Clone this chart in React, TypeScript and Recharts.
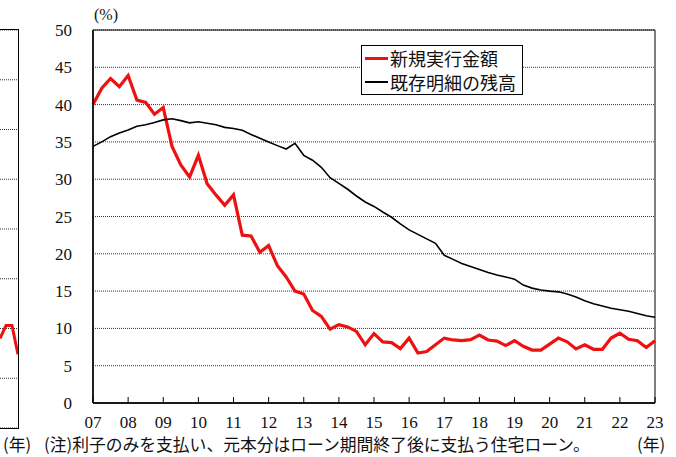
import {
  LineChart,
  Line,
  XAxis,
  YAxis,
  CartesianGrid,
  ReferenceArea,
  Legend,
} from "recharts";

// 四半期ごと (2007Q1〜2023Q1)
const yearLabels = ["07", "08", "09", "10", "11", "12", "13", "14", "15", "16", "17", "18", "19", "20", "21", "22", "23"];

const newLoans = [
  40.0, 42.2, 43.5, 42.4, 43.9, 40.6, 40.3, 38.7, 39.6, 34.4, 31.9, 30.3, 33.2,
  29.4, 27.9, 26.5, 27.9, 22.5, 22.4, 20.2, 21.1, 18.4, 16.9, 15.0, 14.6, 12.4,
  11.6, 9.9, 10.5, 10.2, 9.6, 7.8, 9.3, 8.2, 8.1, 7.3, 8.7, 6.7, 6.9, 7.8, 8.7,
  8.45, 8.35, 8.5, 9.1, 8.45, 8.3, 7.7, 8.35, 7.6, 7.1, 7.1, 7.9, 8.7, 8.2, 7.25,
  7.8, 7.2, 7.2, 8.7, 9.35, 8.55, 8.35, 7.45, 8.35,
];

const outstanding = [
  34.4, 35.0, 35.7, 36.2, 36.6, 37.1, 37.3, 37.6, 37.95, 38.1, 37.85, 37.55, 37.7,
  37.5, 37.3, 36.95, 36.8, 36.55, 36.0, 35.5, 35.0, 34.5, 34.05, 34.8, 33.2, 32.55,
  31.6, 30.2, 29.45, 28.65, 27.75, 26.95, 26.35, 25.6, 24.9, 24.0, 23.2, 22.6, 22.0,
  21.4, 19.8, 19.25, 18.7, 18.3, 17.9, 17.5, 17.15, 16.9, 16.6, 15.8, 15.4, 15.15,
  15.0, 14.9, 14.6, 14.2, 13.7, 13.3, 13.0, 12.7, 12.5, 12.3, 12.0, 11.7, 11.5,
];

// 左隣のパネルの切れ端
const leftTail = [9.0, 10.3, 10.3, 7.4];

const yTicks = [0, 5, 10, 15, 20, 25, 30, 35, 40, 45, 50];
const leftTicks = [0, 5, 10, 15, 20, 25, 30, 35, 40];

const data = newLoans.map((v, i) => ({
  t: i,
  newLoans: v,
  outstanding: outstanding[i],
}));
const leftData = leftTail.map((v, i) => ({ t: i, v }));

const serif = "'Liberation Serif', 'Times New Roman', serif";
const jp = "'Noto Sans CJK JP', sans-serif";

const XTick = (props: any) => {
  const { x, y, payload } = props;
  return (
    <g>
      <line x1={x} x2={x} y1={y} y2={y - 6} stroke="#000" />
      <text x={x} y={y + 25} textAnchor="middle" fontFamily={serif} fontSize={17} fill="#111">
        {yearLabels[payload.value / 4]}
      </text>
    </g>
  );
};

const LegendBox = (props: any) => {
  const items = props.payload || [];
  return (
    <div
      style={{
        border: "1px solid #000",
        background: "#fff",
        padding: "0 6px 0 3px",
        fontFamily: jp,
        fontSize: 18,
        lineHeight: "24px",
        color: "#111",
      }}
    >
      {items.map((p: any) => (
        <div key={p.value} style={{ display: "flex", alignItems: "center" }}>
          <span
            style={{
              display: "inline-block",
              width: 23,
              height: 0,
              borderTop: `${p.dataKey === "newLoans" ? 3 : 2}px solid ${p.color}`,
              marginRight: 2,
            }}
          />
          {p.value}
        </div>
      ))}
    </div>
  );
};

const App = () => {
  return (
    <div style={{ position: "absolute", left: 0, top: 0, width: 676, height: 457, background: "#fff", overflow: "hidden" }}>
      {/* left neighbour panel (cut off) */}
      <div
        style={{
          position: "absolute",
          left: 0,
          top: 29,
          width: 18,
          height: 398,
          borderTop: "1px solid #000",
          borderRight: "1px solid #000",
          borderBottom: "1px solid #000",
        }}
      >
        <LineChart width={18} height={398} data={leftData} margin={{ top: 0, right: 0, bottom: 0, left: 0 }}>
          <CartesianGrid vertical={false} stroke="#333" strokeDasharray="1 1" />
          <XAxis dataKey="t" type="number" domain={[0, 3]} hide />
          <YAxis domain={[0, 40]} ticks={leftTicks} hide />
          <Line dataKey="v" stroke="#ee1111" strokeWidth={3} dot={false} isAnimationActive={false} />
        </LineChart>
      </div>

      <div style={{ position: "absolute", left: 94, top: 6, fontFamily: serif, fontSize: 16, color: "#111" }}>
        (%)
      </div>

      <div style={{ position: "absolute", left: 0, top: 0 }}>
        <LineChart width={676} height={457} data={data} margin={{ top: 30, right: 21, bottom: 24, left: 0 }}>
          <CartesianGrid vertical={false} stroke="#333" strokeDasharray="1 1" />
          <ReferenceArea x1={0} x2={64} y1={0} y2={50} fill="none" stroke="#000" strokeWidth={1} />
          <XAxis
            dataKey="t"
            type="number"
            domain={[0, 64]}
            ticks={yearLabels.map((_, i) => i * 4)}
            tick={<XTick />}
            tickLine={false}
            tickSize={0}
            tickMargin={0}
            height={30}
            axisLine={{ stroke: "#000", strokeWidth: 1.5 }}
            interval={0}
          />
          <YAxis
            domain={[0, 50]}
            ticks={yTicks}
            width={93}
            tickLine={false}
            tickSize={0}
            tickMargin={21}
            interval={0}
            axisLine={{ stroke: "#000", strokeWidth: 1.5 }}
            tick={{ fontFamily: serif, fontSize: 17, fill: "#111" }}
          />
          <Legend
            content={<LegendBox />}
            layout="vertical"
            align="center"
            verticalAlign="middle"
            wrapperStyle={{ position: "absolute", left: 361, top: 45, width: "auto" }}
          />
          <Line
            dataKey="newLoans"
            name="新規実行金額"
            type="linear"
            stroke="#ee1111"
            strokeWidth={3.2}
            dot={false}
            isAnimationActive={false}
          />
          <Line
            dataKey="outstanding"
            name="既存明細の残高"
            type="linear"
            stroke="#000"
            strokeWidth={1.6}
            dot={false}
            isAnimationActive={false}
          />
        </LineChart>
      </div>

      <div
        style={{
          position: "absolute",
          left: 0,
          top: 432,
          width: 676,
          fontFamily: jp,
          fontSize: 16.8,
          color: "#111",
          whiteSpace: "nowrap",
        }}
      >
        <span style={{ position: "absolute", left: 3 }}>(年)</span>
        <span style={{ position: "absolute", left: 44 }}>(注)利子のみを支払い、元本分はローン期間終了後に支払う住宅ローン。</span>
        <span style={{ position: "absolute", left: 637 }}>(年)</span>
      </div>
    </div>
  );
};

export default App;
